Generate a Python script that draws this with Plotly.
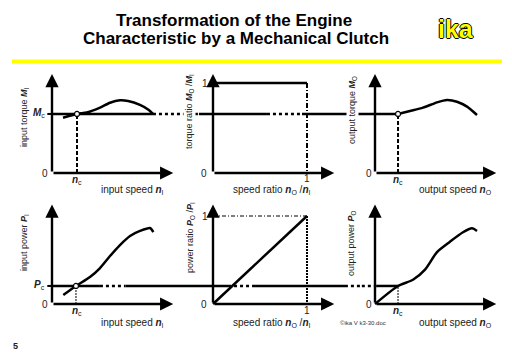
import plotly.graph_objects as go

W, H = 512, 354

# ---------------- data (panel-local units) ----------------
nc_in = 0.266      # engagement speed on input-speed axis
nc_out = 0.245     # engagement speed on output-speed axis
Mc = 0.656         # clutch torque level (top row)
Pc = 0.205         # clutch power level (bottom row)

torque_in_x = [0.117, 0.266, 0.372, 0.511, 0.617, 0.723, 0.809, 0.936, 1.030, 1.074]
torque_in_y = [0.614, 0.656, 0.672, 0.726, 0.781, 0.808, 0.800, 0.756, 0.700, 0.656]

torque_out_x = [0.245, 0.372, 0.511, 0.660, 0.766, 0.872, 0.979, 1.085]
torque_out_y = [0.656, 0.689, 0.726, 0.785, 0.811, 0.792, 0.737, 0.644]

power_in_x = [0.120, 0.255, 0.404, 0.511, 0.617, 0.723, 0.830, 0.936, 1.043, 1.078]
power_in_y = [0.102, 0.205, 0.307, 0.409, 0.545, 0.670, 0.773, 0.830, 0.864, 0.818]

power_out_x = [0.0, 0.245, 0.404, 0.532, 0.660, 0.798, 0.936, 1.032, 1.085]
power_out_y = [0.0, 0.205, 0.275, 0.390, 0.590, 0.708, 0.815, 0.860, 0.830]

ratio_x = [0, 1]
torque_ratio = [1, 1]
power_ratio = [0, 1]

# clutch-level line pieces per panel: (x0, x1, style)
mc_pieces = {
    "A": [(0.0, 1.074, "solid"), (1.074, 1.40, "dot")],
    "B": [(-0.32, -0.15, "dot"), (-0.15, 0.574, "solid"), (0.574, 0.947, "dot"), (0.947, 1.41, "solid")],
    "C": [(-0.32, nc_out, "solid")],
}
pc_pieces = {
    "D": [(0.0, 0.51, "solid"), (0.51, 0.78, "dot"), (0.78, 1.40, "solid")],
    "E": [(-0.32, 0.16, "solid"), (0.16, 0.447, "dot"), (0.447, 1.41, "solid")],
    "F": [(-0.32, -0.14, "dot"), (-0.14, 0.02, "dot"), (0.02, nc_out, "solid")],
}

x_titles = ["input speed <b><i>n</i></b><sub>I</sub>",
            "speed ratio <b><i>n</i></b><sub>O</sub> /<b><i>n</i></b><sub>I</sub>",
            "output speed <b><i>n</i></b><sub>O</sub>"]
y_titles_top = ["input torque <b><i>M</i></b><sub>I</sub>",
                "torque ratio <b><i>M</i></b><sub>O</sub> /<b><i>M</i></b><sub>I</sub>",
                "output torque <b><i>M</i></b><sub>O</sub>"]
y_titles_bot = ["input power <b><i>P</i></b><sub>I</sub>",
                "power ratio <b><i>P</i></b><sub>O</sub> /<b><i>P</i></b><sub>I</sub>",
                "output power <b><i>P</i></b><sub>O</sub>"]
tick_labels = ["0", "1", "<b><i>M</i></b><sub>c</sub>", "<b><i>P</i></b><sub>c</sub>", "<b><i>n</i></b><sub>c</sub>"]

# ---------------- geometry ----------------
cols = {"A": (52, 0, 183), "B": (213, 183, 345), "C": (375, 345, 512)}
rows = {"top": (173, 90, 66, 196), "bot": (304, 88, 198, 332)}
SX = 94
panels = {"A": ("A", "top"), "B": ("B", "top"), "C": ("C", "top"),
          "D": ("A", "bot"), "E": ("B", "bot"), "F": ("C", "bot")}
order = ["A", "B", "C", "D", "E", "F"]

fig = go.Figure()
layout = dict(width=W, height=H, margin=dict(l=0, r=0, t=0, b=0),
              paper_bgcolor="white", plot_bgcolor="white", showlegend=False)

axid = {}
for i, p in enumerate(order):
    c, r = panels[p]
    ox, x0, x1 = cols[c]
    oy, sy, yt, yb = rows[r]
    n = "" if i == 0 else str(i + 1)
    axid[p] = ("x" + n, "y" + n)
    layout["xaxis" + n] = dict(domain=[x0 / W, x1 / W], range=[(x0 - ox) / SX, (x1 - ox) / SX],
                               visible=False, anchor="y" + n, fixedrange=True)
    layout["yaxis" + n] = dict(domain=[1 - yb / H, 1 - yt / H], range=[(oy - yb) / sy, (oy - yt) / sy],
                               visible=False, anchor="x" + n, fixedrange=True)
fig.update_layout(**layout)

K = "#000000"


def line(p, xs, ys, dash="solid", width=2.5, color=K):
    xa, ya = axid[p]
    fig.add_trace(go.Scatter(x=xs, y=ys, mode="lines", xaxis=xa, yaxis=ya,
                             line=dict(color=color, width=width, dash=dash, shape="spline",
                                       smoothing=0.7), hoverinfo="skip"))


def dot(p, x, y):
    xa, ya = axid[p]
    fig.add_trace(go.Scatter(x=[x], y=[y], mode="markers", xaxis=xa, yaxis=ya,
                             marker=dict(symbol="circle", size=5, color="white",
                                         line=dict(color=K, width=1.2)), hoverinfo="skip"))


ann = []


def arrow(p, x0, y0, x1, y1):
    xa, ya = axid[p]
    ann.append(dict(x=x1, y=y1, ax=x0, ay=y0, xref=xa, yref=ya, axref=xa, ayref=ya,
                    text="", showarrow=True, arrowhead=2, arrowsize=1.1, arrowwidth=2.4,
                    arrowcolor=K, standoff=0, startstandoff=0))


def txt(px, py, s, size=10, angle=0, bg=None, color="#222", xanchor="center", family="Liberation Sans, Arial"):
    d = dict(x=px / W, y=1 - py / H, xref="paper", yref="paper", text=s, showarrow=False,
             font=dict(size=size, color=color, family=family), textangle=angle,
             xanchor=xanchor, yanchor="middle")
    if bg:
        d["bgcolor"] = bg
        d["borderpad"] = 0
    ann.append(d)


# level lines
for p, pieces in mc_pieces.items():
    for a, b, st in pieces:
        line(p, [a, b], [Mc, Mc], dash=st)
for p, pieces in pc_pieces.items():
    for a, b, st in pieces:
        line(p, [a, b], [Pc, Pc], dash=st)

# axes (arrows)
for p in ["A", "B", "C"]:
    arrow(p, 0, 0, 0, 1.10)
    arrow(p, 0, 0, 1.29, 0)
for p in ["D", "E", "F"]:
    arrow(p, 0, 0, 0, 1.13)
    arrow(p, 0, 0, 1.29, 0)

# top row curves
line("A", torque_in_x, torque_in_y)
line("A", [nc_in, nc_in], [0, Mc], dash="4px,2px", width=2)
line("A", [-0.05, 0], [Mc, Mc], width=2)
dot("A", nc_in, Mc)

line("B", ratio_x, torque_ratio)
line("B", [1, 1], [1, 0], dash="5px,2px,1px,2px", width=2)
line("B", [-0.04, 0], [1, 1], width=2)

line("C", torque_out_x, torque_out_y)
line("C", [nc_out, nc_out], [0, Mc], dash="4px,2px", width=2)
dot("C", nc_out, Mc)

# bottom row curves
line("D", power_in_x, power_in_y)
line("D", [0.255, 0.255], [0, Pc], dash="2px,1px", width=1)
line("D", [-0.05, 0], [Pc, Pc], width=2)
dot("D", 0.255, Pc)

line("E", ratio_x, power_ratio)
line("E", [0, 1], [1, 1], dash="4px,2px,1px,2px", width=1)
line("E", [1, 1], [1, 0], dash="2px,1px", width=2)
line("E", [-0.04, 0], [1, 1], width=2)

line("F", power_out_x, power_out_y)
line("F", [nc_out, nc_out], [0, Pc], dash="2px,1px", width=1)

# ---------------- texts ----------------
for (px, py), s in zip([(24, 117), (190, 112), (352, 110)], y_titles_top):
    txt(px, py, s, size=9, angle=-90, bg="white")
for (px, py), s in zip([(25, 243), (190, 238), (352, 243)], y_titles_bot):
    txt(px, py, s, size=9, angle=-90, bg="white")
for px, s in zip([132, 272, 455], x_titles):
    txt(px, 190, s, size=10)
    txt(px, 323, s, size=10)

for px, py in [(45, 173), (204, 173), (369, 173), (45, 304), (204, 304), (369, 304)]:
    txt(px, py, tick_labels[0], size=10)
for px, py in [(205, 83), (307, 178), (205, 216), (307, 310)]:
    txt(px, py, tick_labels[1], size=10)
txt(39, 113, tick_labels[2], size=10)
txt(39, 285, tick_labels[3], size=10)
for px, py in [(77, 180), (398, 180), (77, 311), (398, 311)]:
    txt(px, py, tick_labels[4], size=10)

txt(363, 323, "©ika V k3-30.doc", size=6, color="#333")
txt(15, 346, "<b>5</b>", size=9, color="#222")

# title
txt(234, 20, "<b>Transformation of the Engine</b>", size=17, color="#000")
txt(236, 38.5, "<b>Characteristic by a Mechanical Clutch</b>", size=17, color="#000")
ann.append(dict(x=456 / W, y=1 - 29 / H, xref="paper", yref="paper", text="<b>ika</b>", showarrow=False,
                font=dict(size=25, color="#FFFF00", family="Liberation Sans, Arial",
                          shadow="1px 0 0 #000, -1px 0 0 #000, 0 1px 0 #000, 0 -1px 0 #000"),
                xanchor="center", yanchor="middle"))

fig.update_layout(annotations=ann,
                  shapes=[dict(type="line", xref="paper", yref="paper", x0=12 / W, x1=502 / W,
                               y0=1 - 61.5 / H, y1=1 - 61.5 / H,
                               line=dict(color="#FFFF00", width=4))])

fig.write_html("out.html")
